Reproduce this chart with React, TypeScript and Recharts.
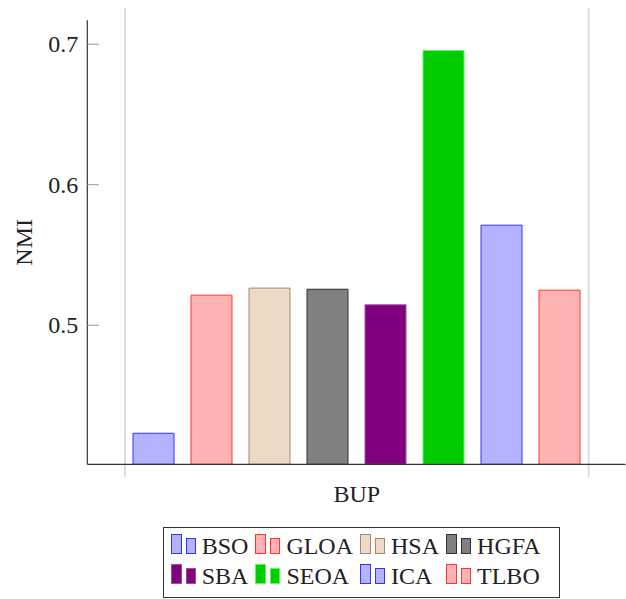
import React from 'react';
import { BarChart, Bar, XAxis, YAxis, Legend, ReferenceLine } from 'recharts';

const CATEGORIES = ['BUP'];
const SERIES = ['BSO', 'GLOA', 'HSA', 'HGFA', 'SBA', 'SEOA', 'ICA', 'TLBO'];
const VALUES = [0.4231, 0.5214, 0.5264, 0.5256, 0.5145, 0.6955, 0.5712, 0.5249];
const FILLS = ['#b3b3ff', '#ffb3b3', '#ecd9c6', '#808080', '#800080', '#00cc00', '#b3b3ff', '#ffb3b3'];
const STROKES = ['#3333ff', '#ff3333', '#a6896b', '#333333', '#99529a', '#55ff55', '#3333ff', '#ff3333'];
const Y_TICKS = [0.5, 0.6, 0.7];
const Y_DOMAIN = [0.401, 0.717];

const data = CATEGORIES.map((name) => {
  const row: Record<string, string | number> = { name };
  SERIES.forEach((s, i) => {
    row[s] = VALUES[i];
  });
  return row;
});

const FONT = '"Liberation Serif", "DejaVu Serif", serif';

// left ticks point inwards, label sits outside the box
const LeftTick = (props: any) => {
  const { x, y, payload } = props;
  return (
    <g>
      <line x1={x + 9} x2={x + 20.7} y1={y} y2={y} stroke="#999" strokeWidth={1} />
      <text x={x} y={y} dy="0.33em" textAnchor="end" fontSize={24} fontFamily={FONT} fill="#222">
        {payload.value}
      </text>
    </g>
  );
};

const RightTick = (props: any) => {
  const { x, y } = props;
  return <line x1={x - 11.5} x2={x} y1={y} y2={y} stroke="#999" strokeWidth={1} />;
};

const LegendBox = () => (
  <div
    style={{
      border: '1px solid #333',
      background: '#fff',
      display: 'grid',
      gridTemplateColumns: 'repeat(4, auto)',
      columnGap: 7,
      padding: '3px 18px 6px 7px',
      fontSize: 24,
      lineHeight: '30px',
      fontFamily: FONT,
      color: '#222',
    }}
  >
    {SERIES.map((s, i) => (
      <div key={s} style={{ display: 'flex', alignItems: 'baseline', whiteSpace: 'nowrap' }}>
        <svg width={25} height={20} style={{ marginRight: 6 }}>
          <rect x={0.5} y={0.5} width={10} height={19} fill={FILLS[i]} stroke={STROKES[i]} />
          <rect x={15.5} y={4.5} width={9} height={15} fill={FILLS[i]} stroke={STROKES[i]} />
        </svg>
        <span>{s}</span>
      </div>
    ))}
  </div>
);

export default function App() {
  return (
    <div style={{ position: 'absolute', left: 0, top: 0 }}>
      <BarChart
        width={626}
        height={599}
        data={data}
        margin={{ top: 20.3, right: 0.5, bottom: 94.7, left: 0 }}
        barSize={41}
        barGap={17}
      >
        <XAxis
          dataKey="name"
          height={40}
          padding={{ left: 37.7, right: 36.8 }}
          tickLine={false}
          tickSize={0}
          tickMargin={20.7}
          axisLine={{ stroke: '#333', strokeWidth: 1.2 }}
          tick={{ fontSize: 24, fontFamily: FONT, fill: '#222' }}
        />
        <XAxis xAxisId="top" dataKey="name" orientation="top" height={0} tick={false} tickLine={false} axisLine={{ stroke: '#333', strokeWidth: 1.2 }} />
        <YAxis
          width={87.3}
          domain={Y_DOMAIN}
          ticks={Y_TICKS}
          allowDataOverflow
          tickLine={false}
          tickSize={0}
          tickMargin={9}
          axisLine={{ stroke: '#333', strokeWidth: 1.2 }}
          tick={<LeftTick />}
          label={{ value: 'NMI', angle: -90, position: 'center', dx: -20.3, fontSize: 24, fontFamily: FONT, fill: '#222' }}
        />
        <YAxis
          yAxisId="right"
          orientation="right"
          width={0}
          domain={Y_DOMAIN}
          ticks={Y_TICKS}
          allowDataOverflow
          tickLine={false}
          tickSize={0}
          tickMargin={0}
          axisLine={{ stroke: '#bbb', strokeWidth: 1 }}
          tick={<RightTick />}
        />
        {(['start', 'end'] as const).map((p) => (
          <ReferenceLine
            key={p}
            position={p}
            segment={[
              { x: CATEGORIES[0], y: 0.7258 },
              { x: CATEGORIES[0], y: 0.3922 },
            ]}
            ifOverflow="visible"
            stroke="#d9d9d9"
            strokeWidth={1.8}
          />
        ))}
        <Legend
          layout="horizontal"
          verticalAlign="middle"
          align="center"
          content={<LegendBox />}
          wrapperStyle={{ position: 'absolute', left: 162.7, top: 526.7, width: 'auto' }}
        />
        {SERIES.map((s, i) => (
          <Bar key={s} dataKey={s} fill={FILLS[i]} stroke={STROKES[i]} strokeWidth={1} isAnimationActive={false} />
        ))}
      </BarChart>
    </div>
  );
}
